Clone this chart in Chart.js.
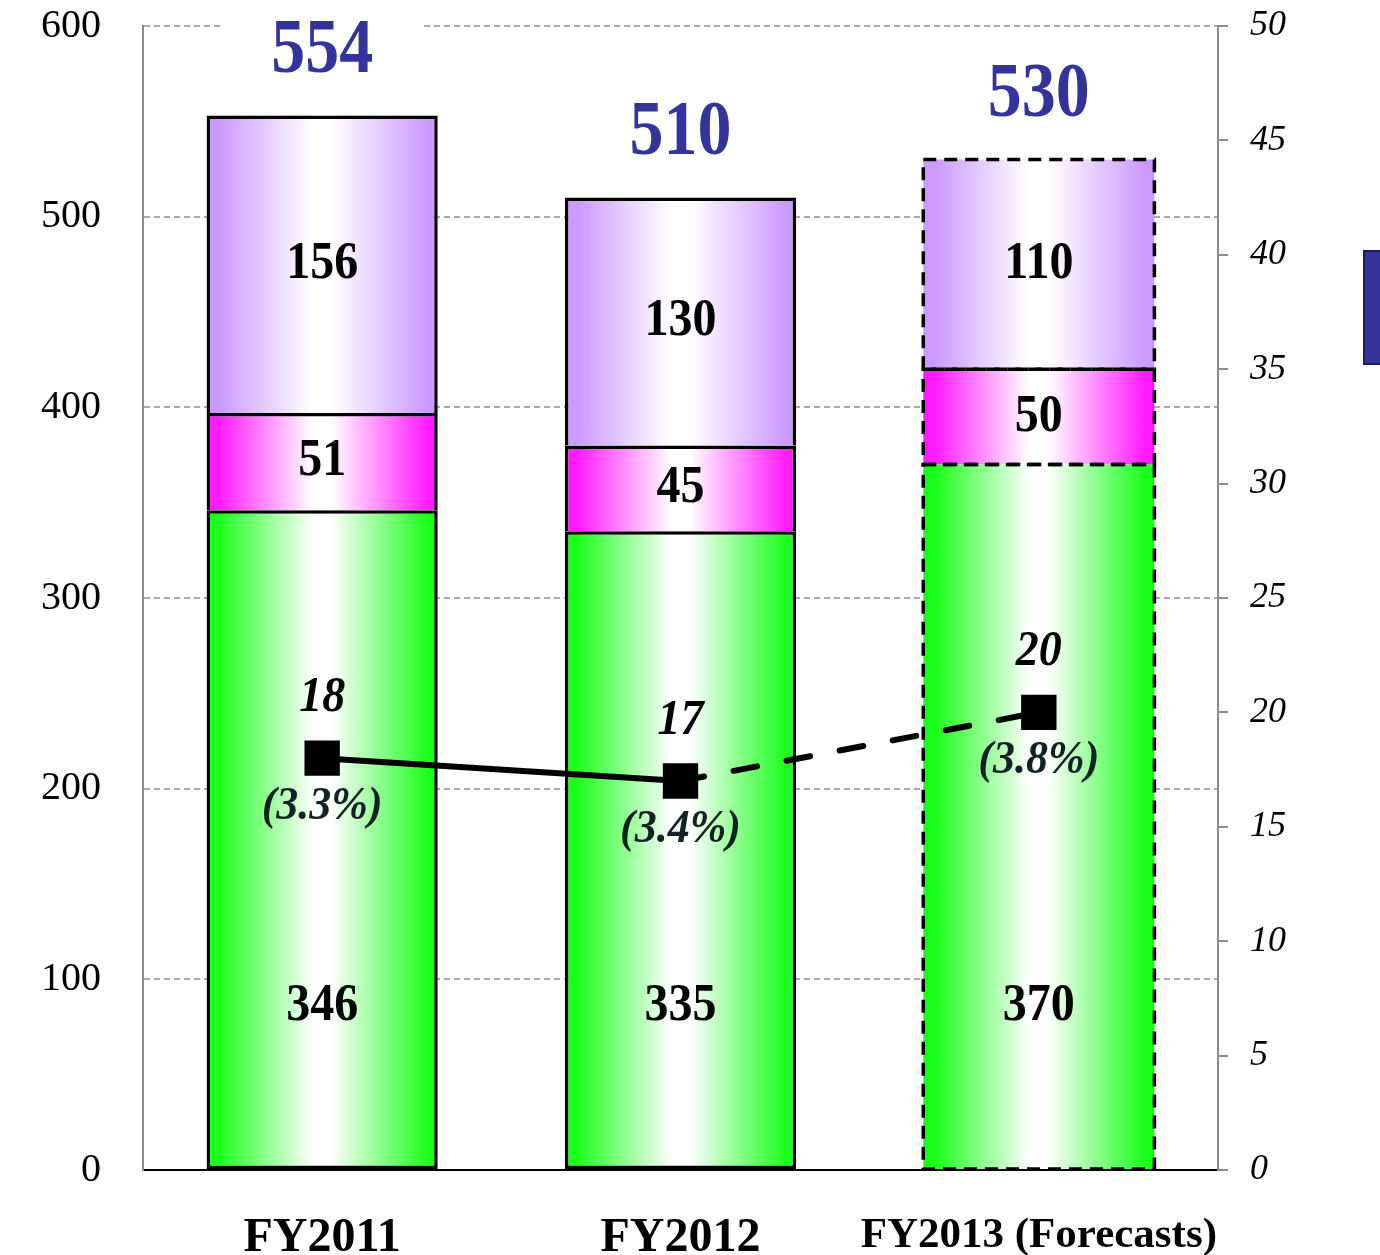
<!DOCTYPE html>
<html>
<head>
<meta charset="utf-8">
<script src="https://cdn.jsdelivr.net/npm/chart.js@4/dist/chart.umd.min.js"></script>
<style>
  html, body { margin: 0; padding: 0; background: #ffffff; }
  #wrap { position: relative; width: 1380px; height: 1255px; }
</style>
</head>
<body>
<div id="wrap"><canvas id="c" width="1380" height="1255"></canvas></div>
<script>
// Net sales by segment (stacked) and operating income (line, right axis)
const categories = ['FY2011', 'FY2012', 'FY2013 (Forecasts)'];
const baseSales = [346, 335, 370];
const midSales = [51, 45, 50];
const topSales = [156, 130, 110];
const totals = [554, 510, 530];
const income = [18, 17, 20];
const incomeRatio = ['(3.3%)', '(3.4%)', '(3.8%)'];
const forecastIndex = 2;

const SERIF = '"Liberation Serif", "Times New Roman", serif';
const BAR_FRAC = 0.645;
const LOW_LABEL_VALUE = 86;

// Horizontal fade: saturated at the bar edges, white in the middle
function fade(color) {
  return (ctx) => {
    const chart = ctx.chart;
    const xs = chart.scales.x;
    if (!xs || ctx.type !== 'data' || !xs.width) return color;
    const c = xs.getPixelForValue(ctx.dataIndex);
    const w = xs.width / categories.length * BAR_FRAC;
    const g = chart.ctx.createLinearGradient(c - w / 2, 0, c + w / 2, 0);
    g.addColorStop(0, color);
    g.addColorStop(0.05, color);
    g.addColorStop(0.46, '#ffffff');
    g.addColorStop(0.54, '#ffffff');
    g.addColorStop(0.96, color);
    g.addColorStop(1, color);
    return g;
  };
}

const solidBorder = (ctx) => (ctx.dataIndex === forecastIndex ? 0 : 3.5);

// Draw text slightly taller than wide, like the rest of the typography here
function tallText(ctx, text, x, y, sy) {
  ctx.save();
  ctx.translate(x, y);
  ctx.scale(1, sy);
  ctx.fillText(text, 0, 0);
  ctx.restore();
}

const decor = {
  id: 'decor',
  afterDatasetDraw(chart, args) {
    // dashed outline of the forecast bar, once all bar layers are painted
    if (args.index !== 1) return;
    const ctx = chart.ctx;
    ctx.save();
    ctx.setLineDash([13, 8]);
    ctx.lineWidth = 3.5;
    ctx.strokeStyle = '#000000';
    [1, 2, 3].forEach((di) => {
      const el = chart.getDatasetMeta(di).data[forecastIndex];
      const p = el.getProps(['x', 'y', 'base', 'width'], true);
      ctx.strokeRect(p.x - p.width / 2, p.y, p.width, p.base - p.y);
    });
    ctx.restore();
  },
  afterDatasetsDraw(chart) {
    const ctx = chart.ctx;
    const ys = chart.scales.y;
    ctx.save();
    ctx.textAlign = 'center';
    ctx.textBaseline = 'middle';

    // segment values
    ctx.fillStyle = '#000000';
    ctx.font = 'bold 48px ' + SERIF;
    const low = chart.getDatasetMeta(1).data;
    const mid = chart.getDatasetMeta(2).data;
    const top = chart.getDatasetMeta(3).data;
    categories.forEach((_, i) => {
      tallText(ctx, String(baseSales[i]), low[i].x, ys.getPixelForValue(LOW_LABEL_VALUE), 1.1);
      tallText(ctx, String(midSales[i]), mid[i].x, (mid[i].y + mid[i].base) / 2, 1.1);
      tallText(ctx, String(topSales[i]), top[i].x, (top[i].y + top[i].base) / 2, 1.1);
    });

    // totals above each stack, on a white plate
    ctx.font = 'bold 68px ' + SERIF;
    categories.forEach((_, i) => {
      const t = String(totals[i]);
      const x = top[i].x;
      const y = top[i].y - 64;
      const w = ctx.measureText(t).width + 100;
      ctx.fillStyle = '#ffffff';
      ctx.fillRect(x - w / 2, y - 34, w, 68);
      ctx.fillStyle = '#333399';
      tallText(ctx, t, x, y, 1.15);
    });

    // operating income values and ratios
    const pts = chart.getDatasetMeta(0).data;
    pts.forEach((p, i) => {
      ctx.fillStyle = '#000000';
      ctx.font = 'italic bold 46px ' + SERIF;
      tallText(ctx, String(income[i]), p.x, p.y - 60, 1.1);
      ctx.font = 'italic bold 44px ' + SERIF;
      ctx.fillStyle = '#102222';
      tallText(ctx, incomeRatio[i], p.x, p.y + 49, 1.05);
    });

    ctx.restore();
  },
  afterDraw(chart) {
    // navy marker at the right edge
    const ctx = chart.ctx;
    ctx.save();
    ctx.fillStyle = '#333399';
    ctx.strokeStyle = '#1c1c5c';
    ctx.lineWidth = 2;
    ctx.fillRect(1364, 251, 20, 113);
    ctx.strokeRect(1364, 251, 20, 113);
    ctx.restore();
  }
};

const noVerticalPad = (s) => { s.paddingTop = 0; s.paddingBottom = 0; };

new Chart(document.getElementById('c'), {
  type: 'bar',
  data: {
    labels: categories,
    datasets: [
      {
        type: 'line',
        label: 'Operating income',
        data: income,
        yAxisID: 'y2',
        order: 0,
        borderColor: '#000000',
        borderWidth: 6,
        borderCapStyle: 'round',
        pointStyle: 'rect',
        pointRadius: 25,
        pointBackgroundColor: '#000000',
        pointBorderColor: '#000000',
        pointBorderWidth: 0,
        tension: 0,
        segment: {
          borderDash: (ctx) => (ctx.p0DataIndex >= 1 ? [24, 30] : undefined)
        }
      },
      {
        label: 'Base',
        data: baseSales,
        order: 1,
        backgroundColor: fade('#1aff1a'),
        borderColor: '#000000',
        borderWidth: solidBorder,
        borderSkipped: false
      },
      {
        label: 'Middle',
        data: midSales,
        order: 1,
        backgroundColor: fade('#ff1aff'),
        borderColor: '#000000',
        borderWidth: solidBorder
      },
      {
        label: 'Top',
        data: topSales,
        order: 1,
        backgroundColor: fade('#cc99ff'),
        borderColor: '#000000',
        borderWidth: solidBorder
      }
    ]
  },
  options: {
    responsive: false,
    animation: false,
    devicePixelRatio: 1,
    layout: { padding: { top: 26, left: 0, right: 0, bottom: 0 } },
    datasets: { bar: { categoryPercentage: 1, barPercentage: BAR_FRAC } },
    plugins: { legend: { display: false }, tooltip: { enabled: false } },
    scales: {
      x: {
        stacked: true,
        grid: { display: false, drawTicks: false },
        border: { display: true, color: '#000000', width: 2 },
        ticks: {
          color: '#000000',
          padding: 40,
          maxRotation: 0,
          minRotation: 0,
          autoSkip: false,
          font: (ctx) => ({ family: SERIF, weight: 'bold', size: ctx.index === 2 ? 43 : 48 })
        },
        afterFit: (s) => { s.height = 85; s.paddingLeft = 0; s.paddingRight = 0; }
      },
      y: {
        stacked: true,
        min: 0,
        max: 600,
        position: 'left',
        grid: {
          color: (ctx) => (ctx.tick && ctx.tick.value === 0 ? 'rgba(0,0,0,0)' : '#a8a8a8'),
          lineWidth: 2,
          drawTicks: false
        },
        border: { display: true, color: '#8c8c8c', width: 2, dash: [6, 4] },
        ticks: {
          stepSize: 100,
          color: '#000000',
          padding: 42,
          font: { family: SERIF, size: 40 }
        },
        afterFit: (s) => { s.width = 143; noVerticalPad(s); }
      },
      y2: {
        min: 0,
        max: 50,
        position: 'right',
        grid: { drawOnChartArea: false, drawTicks: true, tickLength: 10, color: '#8c8c8c', lineWidth: 2 },
        border: { display: true, color: '#8c8c8c', width: 2 },
        ticks: {
          stepSize: 5,
          color: '#000000',
          padding: 22,
          font: { family: SERIF, size: 36, style: 'italic' }
        },
        afterFit: (s) => { s.width = 162; noVerticalPad(s); }
      }
    }
  },
  plugins: [decor]
});
</script>
</body>
</html>
